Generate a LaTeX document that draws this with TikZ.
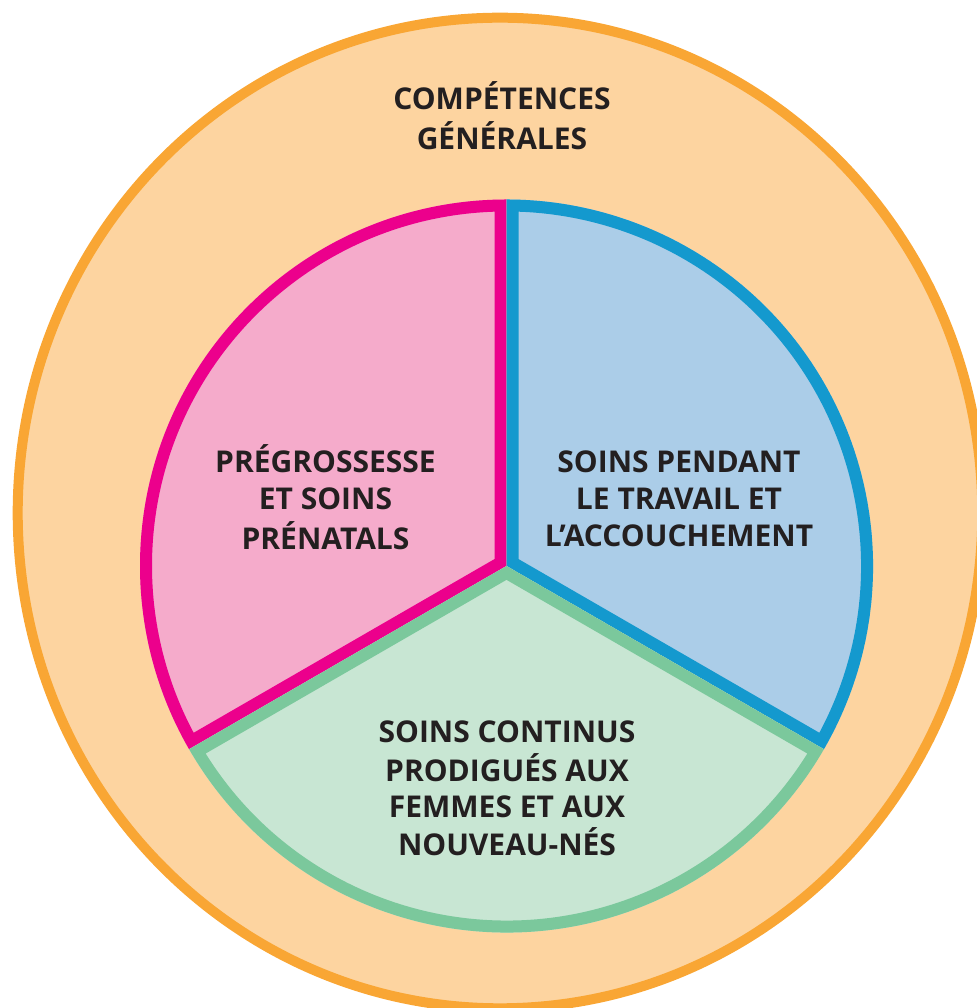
\documentclass[tikz,border=0pt]{standalone}
\usepackage{fontspec}
\setmainfont{Open Sans}
\definecolor{orangeline}{HTML}{F9A634}
\definecolor{orangefill}{HTML}{FDD4A0}
\definecolor{pinkline}{HTML}{EC008C}
\definecolor{pinkfill}{HTML}{F5ABCB}
\definecolor{blueline}{HTML}{1499CE}
\definecolor{bluefill}{HTML}{ABCDE8}
\definecolor{greenline}{HTML}{7BC89C}
\definecolor{greenfill}{HTML}{C8E6D3}
\definecolor{txt}{HTML}{231F20}
\tikzset{
  lbl/.style={inner sep=0pt, anchor=base, text=txt, font=\fontsize{30}{37}\selectfont\bfseries},
  glbl/.style={lbl, font=\fontsize{30}{35.7}\selectfont\bfseries},
  sectorline/.style={line width=24pt, line join=miter},
}
\begin{document}
\begin{tikzpicture}[x=1pt,y=1pt]
\useasboundingbox (0,0) rectangle (976,1008);
% outer ring
\draw[orangeline, fill=orangefill, line width=10pt] (500,495) ellipse [x radius=482.3pt, y radius=495.3pt];
\coordinate (c) at (506.5,442);
% pink sector
\begin{scope}
\clip (c) -- ++(90:366.5pt) arc[start angle=90, end angle=210, radius=366.5pt] -- cycle;
\fill[pinkfill] (c) -- ++(90:366.5pt) arc[start angle=90, end angle=210, radius=366.5pt] -- cycle;
\draw[pinkline, sectorline] (c) -- ++(90:366.5pt) arc[start angle=90, end angle=210, radius=366.5pt] -- cycle;
\end{scope}
% blue sector
\begin{scope}
\clip (c) -- ++(-30:366.5pt) arc[start angle=-30, end angle=90, radius=366.5pt] -- cycle;
\fill[bluefill] (c) -- ++(-30:366.5pt) arc[start angle=-30, end angle=90, radius=366.5pt] -- cycle;
\draw[blueline, sectorline] (c) -- ++(-30:366.5pt) arc[start angle=-30, end angle=90, radius=366.5pt] -- cycle;
\end{scope}
% green sector
\begin{scope}
\clip (c) -- ++(210:366.5pt) arc[start angle=210, end angle=330, radius=366.5pt] -- cycle;
\fill[greenfill] (c) -- ++(210:366.5pt) arc[start angle=210, end angle=330, radius=366.5pt] -- cycle;
\draw[greenline, sectorline] (c) -- ++(210:366.5pt) arc[start angle=210, end angle=330, radius=366.5pt] -- cycle;
\end{scope}
% labels
\node[lbl] (gen) at (502,898) {\begin{tabular}[t]{@{}c@{}}COMPÉTENCES\\GÉNÉRALES\end{tabular}};
\node[lbl] (pre) at (325.5,535) {\begin{tabular}[t]{@{}c@{}}PRÉGROSSESSE\\ET SOINS\\PRÉNATALS\end{tabular}};
\node[lbl] (trav) at (679,535) {\begin{tabular}[t]{@{}c@{}}SOINS PENDANT\\LE TRAVAIL ET\\L’ACCOUCHEMENT\end{tabular}};
\node[glbl] (cont) at (507,265) {\begin{tabular}[t]{@{}c@{}}SOINS CONTINUS\\PRODIGUÉS AUX\\FEMMES ET AUX\\NOUVEAU-NÉS\end{tabular}};
\end{tikzpicture}
\end{document}
